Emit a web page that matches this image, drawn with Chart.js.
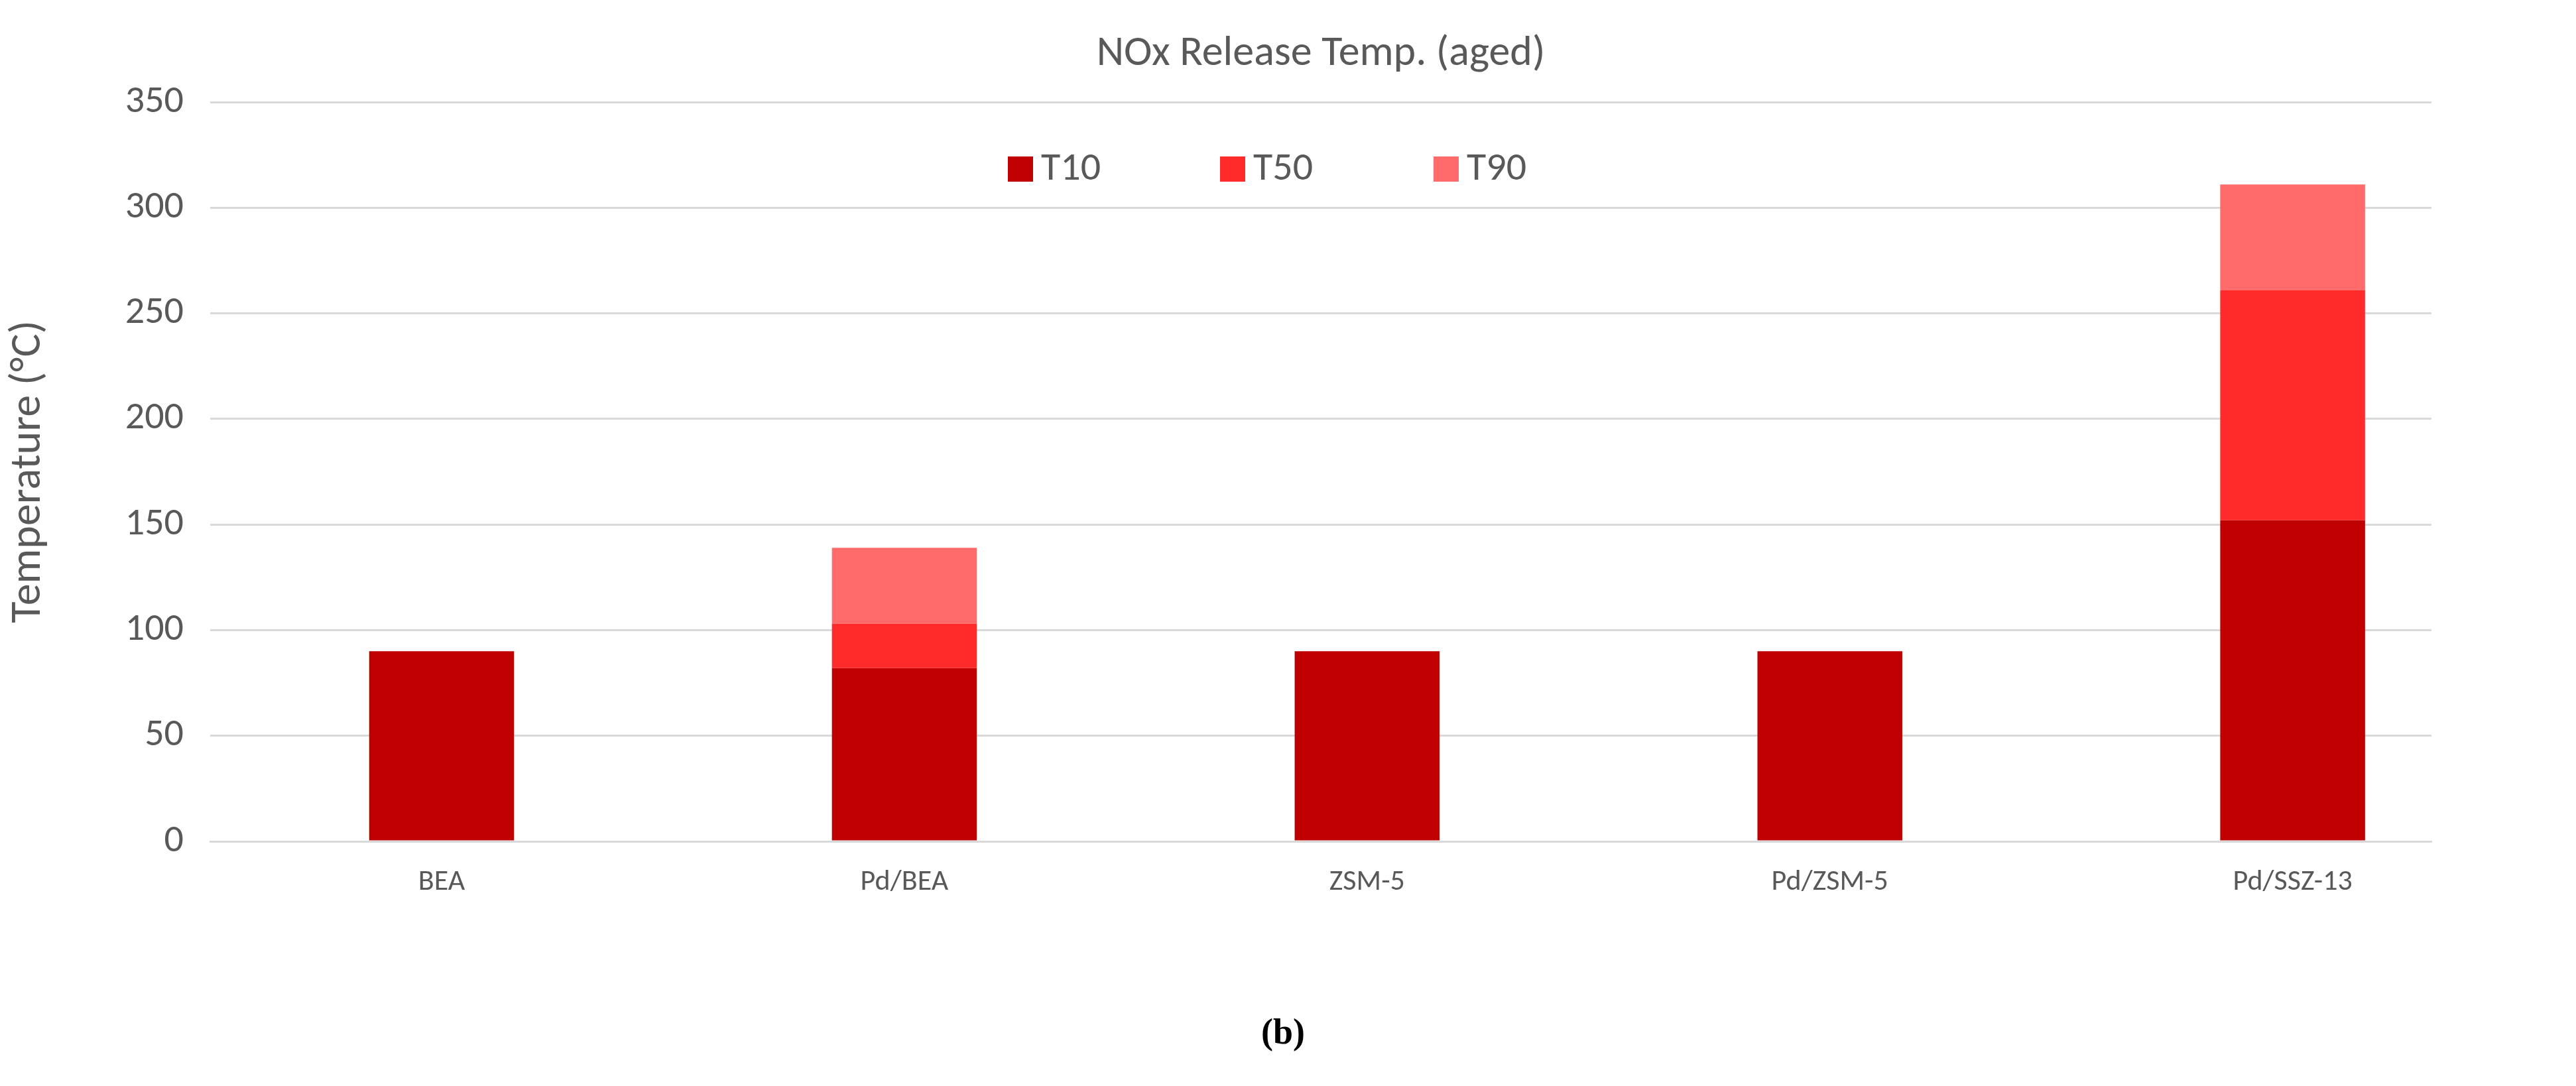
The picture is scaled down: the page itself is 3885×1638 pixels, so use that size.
<!DOCTYPE html>
<html><head><meta charset="utf-8">
<script src="https://cdn.jsdelivr.net/npm/chart.js@4"></script>
<style>html,body{margin:0;padding:0;background:#fff}#w{width:3885px;height:1638px}</style>
</head><body><div id="w"><canvas id="c"></canvas></div>
<script>
const categories = ["BEA","Pd/BEA","ZSM-5","Pd/ZSM-5","Pd/SSZ-13"];
const t10 = [90, 82, 90, 90, 152];
const t50 = [0, 21, 0, 0, 109];
const t90 = [0, 36, 0, 0, 50];
const seriesNames = ["T10","T50","T90"];
const colors = ["#C00000","#FF2B2B","#FF6B6B"];
const yTicks = [0,50,100,150,200,250,300,350];
const FONT = "Calibri, Carlito, 'Open Sans', sans-serif";

const overlay = {
  id:'overlay',
  afterDraw(chart){
    const ctx = chart.ctx, a = chart.chartArea;
    ctx.save();
    ctx.fillStyle = '#595959';
    ctx.textAlign='center'; ctx.textBaseline='middle';
    ctx.font = `64px ${FONT}`;
    ctx.fillText("NOx Release Temp. (aged)", (a.left+a.right)/2, 82);
    ctx.font = `60px ${FONT}`;
    const xs=[1520,1840,2162];
    chart.data.datasets.forEach((d,i)=>{
      ctx.fillStyle=d.backgroundColor;
      ctx.fillRect(xs[i],236,38,38);
      ctx.fillStyle='#595959'; ctx.textAlign='left';
      ctx.fillText(d.label, xs[i]+50, 256);
    });
    ctx.font = `bold 54px 'Liberation Serif', serif`;
    ctx.fillStyle='#000'; ctx.textAlign='center';
    ctx.fillText("(b)", 1935, 1560);
    ctx.restore();
  }
};

new Chart(document.getElementById('c'),{
  type:'bar',
  data:{datasets:[t10,t50,t90].map((v,i)=>({label:seriesNames[i],data:v.map((y,j)=>({x:j,y:y})),backgroundColor:colors[i],categoryPercentage:1,barPercentage:0.313}))},
  options:{
    responsive:true,maintainAspectRatio:false,animation:false,
    layout:{padding:{top:154,left:0,right:218,bottom:0}},
    plugins:{legend:{display:false},title:{display:false},tooltip:{enabled:false}},
    scales:{
      x:{type:'linear',stacked:true,min:-0.5,max:4.3,offset:false,
         afterBuildTicks(s){s.ticks=categories.map((c,i)=>({value:i}));},
         grid:{display:false},border:{color:'#d9d9d9',width:3},
         ticks:{color:'#595959',font:{size:44,family:FONT},padding:28,callback:(v)=>categories[v]},
         afterFit(s){s.height=369;}},
      y:{stacked:true,min:0,max:350,
         afterBuildTicks(s){s.ticks=yTicks.map(v=>({value:v}));},
         grid:{color:'#d9d9d9',lineWidth:3,drawTicks:false},border:{display:false},
         ticks:{color:'#595959',font:{size:58,family:FONT},padding:40},
         title:{display:true,text:'Temperature (°C)',color:'#595959',font:{size:66,family:FONT}},
         afterFit(s){s.width=317;}}
    }
  },
  plugins:[overlay]
});
</script></body></html>
